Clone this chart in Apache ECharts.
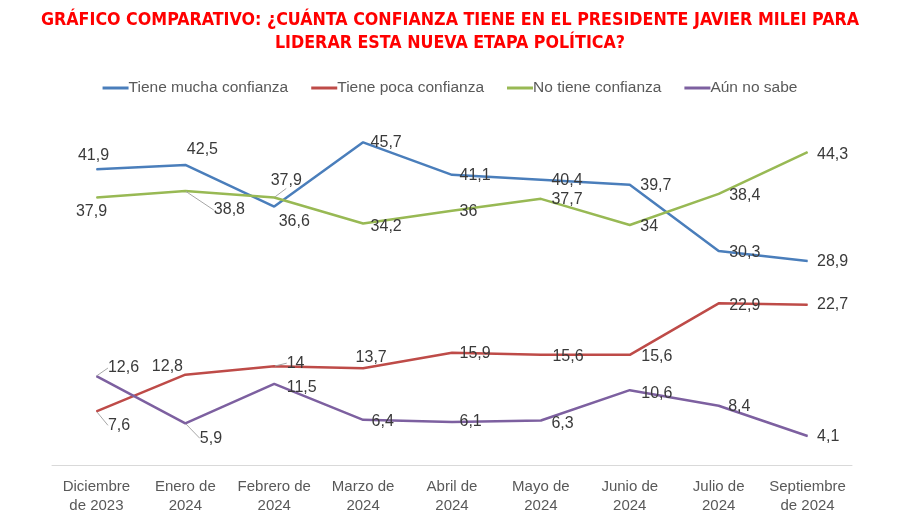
<!DOCTYPE html>
<html><head><meta charset="utf-8">
<script src="https://cdn.jsdelivr.net/npm/echarts@6/dist/echarts.min.js"></script>
<style>html,body{margin:0;padding:0;background:#fff}#c{width:900px;height:520px}</style>
</head><body><div id="c"></div>
<script>
const categories = ["Diciembre\nde 2023","Enero de\n2024","Febrero de\n2024","Marzo de\n2024","Abril de\n2024","Mayo de\n2024","Junio de\n2024","Julio de\n2024","Septiembre\nde 2024"];
const muchaConfianza = [41.9, 42.5, 36.6, 45.7, 41.1, 40.4, 39.7, 30.3, 28.9];
const pocaConfianza = [7.6, 12.8, 14, 13.7, 15.9, 15.6, 15.6, 22.9, 22.7];
const noConfianza = [37.9, 38.8, 37.9, 34.2, 36, 37.7, 34, 38.4, 44.3];
const noSabe = [12.6, 5.9, 11.5, 6.4, 6.1, 6.3, 10.6, 8.4, 4.1];
const seriesNames = ["Tiene mucha confianza","Tiene poca confianza","No tiene confianza","Aún no sabe"];
const titleText = "GRÁFICO COMPARATIVO: ¿CUÁNTA CONFIANZA TIENE EN EL PRESIDENTE JAVIER MILEI PARA\nLIDERAR ESTA NUEVA ETAPA POLÍTICA?";

// label offsets (styling) [dx, dy] relative to 'right' position; third flag = leader line
const offBlue = [[-23,-14],[-3,-15],[0,15],[3,0],[3,1],[6,1],[6,1],[6,2],[5,1]];
const offRed = [[7,14,1],[-38,-8],[8,-3,1],[-12,-11],[3,1],[7,2],[7,2],[6,2],[5,0]];
const offGreen = [[-25,14],[24,19,1],[-8,-17,1],[3,3],[3,1],[6,1],[6,2],[6,2],[5,2]];
const offPurple = [[7,-8,1],[10,15,1],[8,4],[4,2],[3,0],[6,3],[7,3],[5,1],[5,1]];

const colors = ["#4A7EBB","#BE4B48","#98B954","#7D60A0"];
const font = "'Liberation Sans', Arial, sans-serif";

function fmt(v){ return String(v).replace('.', ','); }
function mk(name, vals, offs, color){
  return {
    name, type:'line',
    data: vals.map((v,i)=> offs[i][2] ? {value:v, labelLine:{show:true}} : {value:v}),
    symbol:'circle', symbolSize:1, showSymbol:true,
    lineStyle:{width:2.5, color}, itemStyle:{color},
    label:{show:true, position:'right', distance:4, formatter:p=>fmt(p.value),
      color:'#3a3a3a', fontSize:16, fontFamily:font},
    labelLine:{show:false, lineStyle:{color:'#A6A6A6', width:1}},
    labelLayout: function(p){
      const o = offs[p.dataIndex];
      return {dx:o[0], dy:o[1]};
    },
    z: 2
  };
}
const chart = echarts.init(document.getElementById('c'), null, {renderer:'canvas'});
chart.setOption({
  animation:false,
  color: colors,
  title:{text:titleText, left:'center', top:4,
    textStyle:{color:'#FF0000', fontSize:17.7, fontWeight:'bold', fontFamily:"'Liberation Sans Narrow','DejaVu Sans Condensed',Arial,sans-serif", lineHeight:23}},
  legend:{top:75, left:'center', itemGap:23, itemWidth:26, itemHeight:3, icon:'rect',
    textStyle:{color:'#595959', fontSize:15.5, fontFamily:font, padding:[0,0,0,-5]},
    data: seriesNames},
  grid:{left:52, right:48, top:112, bottom:55, containLabel:false},
  xAxis:{type:'category', data:categories, boundaryGap:true,
    axisLine:{lineStyle:{color:'#D9D9D9', width:1}}, axisTick:{show:false},
    axisLabel:{color:'#595959', fontSize:15, fontFamily:font, lineHeight:19, margin:12, interval:0}},
  yAxis:{type:'value', min:0, max:50, show:false, splitLine:{show:false}},
  series:[
    mk(seriesNames[0], muchaConfianza, offBlue, colors[0]),
    mk(seriesNames[1], pocaConfianza, offRed, colors[1]),
    mk(seriesNames[2], noConfianza, offGreen, colors[2]),
    mk(seriesNames[3], noSabe, offPurple, colors[3])
  ]
});
</script></body></html>
